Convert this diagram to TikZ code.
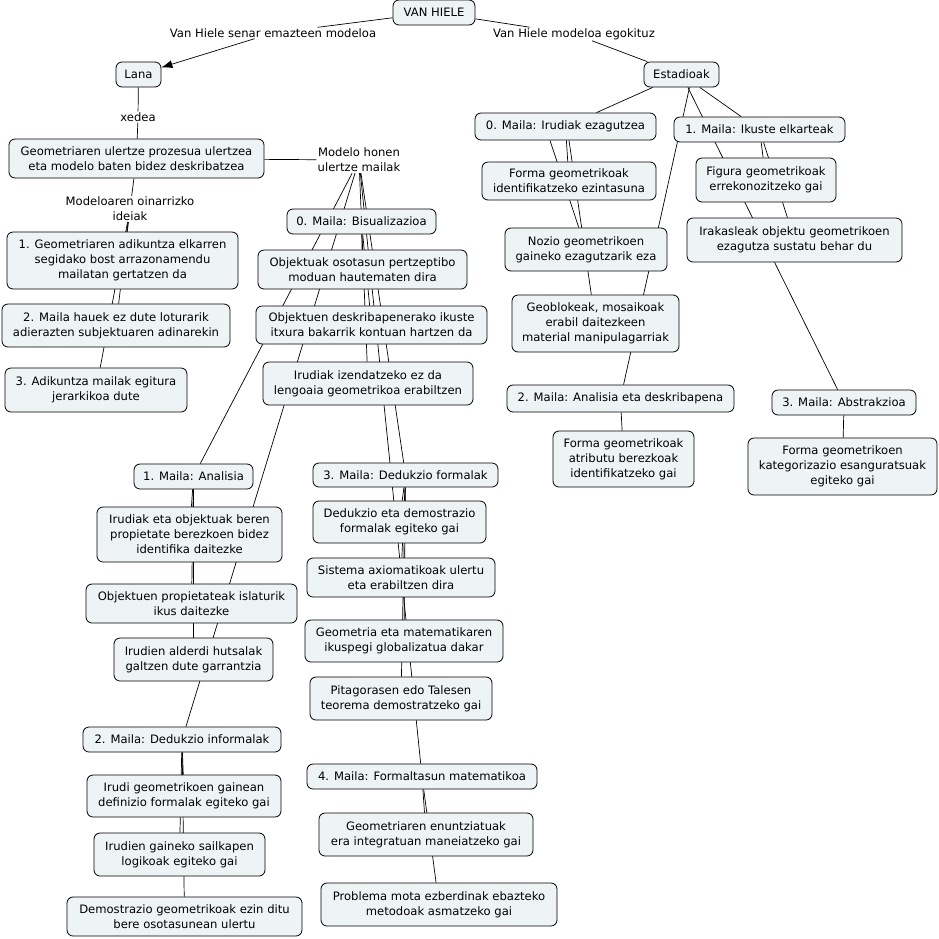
\documentclass[tikz,border=0pt]{standalone}
\usepackage{fontspec}
\setmainfont{DejaVu Sans}
\usetikzlibrary{arrows.meta}
\pgfdeclarelayer{background}
\pgfsetlayers{background,main}
\definecolor{boxfill}{HTML}{EEF3F5}
\tikzset{
  box/.style={draw=black, line width=0.8pt, rounded corners=6pt, fill=boxfill, inner sep=1pt, align=center, font=\fontsize{11.6}{15}\selectfont},
  lbl/.style={inner sep=1pt, align=center, font=\fontsize{11.6}{15}\selectfont},
  conn/.style={draw=black, line width=0.7pt},
  arr/.style={conn, -{Latex[length=11pt,width=8pt]}}
}
\begin{document}
\begin{tikzpicture}[x=1pt,y=-1pt]
\useasboundingbox (0,0) rectangle (939,938);
% concepts
\node[box, minimum width=82, minimum height=25] (vh) at (434,12.5) {VAN HIELE};
\node[box, minimum width=45, minimum height=25] (lana) at (138.5,74.5) {Lana};
\node[box, minimum width=255, minimum height=39] (geo) at (136.5,158.5) {Geometriaren ulertze prozesua ulertzea\\eta modelo baten bidez deskribatzea};
\node[box, minimum width=231, minimum height=57] (id1) at (122.5,260.5) {1. Geometriaren adikuntza elkarren\\segidako bost arrazonamendu\\mailatan gertatzen da};
\node[box, minimum width=228, minimum height=43] (id2) at (116,325.5) {2. Maila hauek ez dute loturarik\\adierazten subjektuaren adinarekin};
\node[box, minimum width=182, minimum height=44] (id3) at (96,390) {3. Adikuntza mailak egitura\\jerarkikoa dute};
\node[box, minimum width=149, minimum height=25] (b0) at (361.5,221.5) {0. Maila: Bisualizazioa};
\node[box, minimum width=209, minimum height=39] (b0a) at (362.5,269.5) {Objektuak osotasun pertzeptibo\\moduan hautematen dira};
\node[box, minimum width=231, minimum height=38] (b0b) at (371.5,325) {Objektuen deskribapenerako ikuste\\itxura bakarrik kontuan hartzen da};
\node[box, minimum width=210, minimum height=43] (b0c) at (368,383.5) {Irudiak izendatzeko ez da\\lengoaia geometrikoa erabiltzen};
\node[box, minimum width=119, minimum height=25] (b1) at (193.5,476.5) {1. Maila: Analisia};
\node[box, minimum width=185, minimum height=55] (b1a) at (189.5,534.5) {Irudiak eta objektuak beren\\propietate berezkoen bidez\\identifika daitezke};
\node[box, minimum width=211, minimum height=39] (b1b) at (191.5,603.5) {Objektuen propietateak islaturik\\ikus daitezke};
\node[box, minimum width=159, minimum height=43] (b1c) at (193.5,659.5) {Irudien alderdi hutsalak\\galtzen dute garrantzia};
\node[box, minimum width=198, minimum height=25] (b2) at (182,739.5) {2. Maila: Dedukzio informalak};
\node[box, minimum width=194, minimum height=42] (b2a) at (184,796) {Irudi geometrikoen gainean\\definizio formalak egiteko gai};
\node[box, minimum width=171, minimum height=43] (b2b) at (179.5,854.5) {Irudien gaineko sailkapen\\logikoak egiteko gai};
\node[box, minimum width=235, minimum height=39] (b2c) at (184.5,916.5) {Demostrazio geometrikoak ezin ditu\\bere osotasunean ulertu};
\node[box, minimum width=185, minimum height=24] (b3) at (405.5,475) {3. Maila: Dedukzio formalak};
\node[box, minimum width=173, minimum height=42] (b3a) at (399.5,522) {Dedukzio eta demostrazio\\formalak egiteko gai};
\node[box, minimum width=188, minimum height=39] (b3b) at (401,577.5) {Sistema axiomatikoak ulertu\\eta erabiltzen dira};
\node[box, minimum width=198, minimum height=42] (b3c) at (404,641) {Geometria eta matematikaren\\ikuspegi globalizatua dakar};
\node[box, minimum width=182, minimum height=43] (b3d) at (401,698.5) {Pitagorasen edo Talesen\\teorema demostratzeko gai};
\node[box, minimum width=230, minimum height=25] (b4) at (422,776.5) {4. Maila: Formaltasun matematikoa};
\node[box, minimum width=214, minimum height=43] (b4a) at (426,834.5) {Geometriaren enuntziatuak\\era integratuan maneiatzeko gai};
\node[box, minimum width=236, minimum height=43] (b4b) at (439,904.5) {Problema mota ezberdinak ebazteko\\metodoak asmatzeko gai};
\node[box, minimum width=75, minimum height=25] (est) at (681.5,74.5) {Estadioak};
\node[box, minimum width=181, minimum height=27] (s0) at (565.5,126.5) {0. Maila: Irudiak ezagutzea};
\node[box, minimum width=171, minimum height=25] (s1) at (759.5,129.5) {1. Maila: Ikuste elkarteak};
\node[box, minimum width=174, minimum height=38] (s0a) at (569,181) {Forma geometrikoak\\identifikatzeko ezintasuna};
\node[box, minimum width=140, minimum height=44] (s1a) at (766,180) {Figura geometrikoak\\errekonozitzeko gai};
\node[box, minimum width=215, minimum height=44] (s1b) at (794.5,240) {Irakasleak objektu geometrikoen\\ezagutza sustatu behar du};
\node[box, minimum width=162, minimum height=43] (s0b) at (586,249.5) {Nozio geometrikoen\\gaineko ezagutzarik eza};
\node[box, minimum width=167, minimum height=57] (s0c) at (595.5,323.5) {Geoblokeak, mosaikoak\\erabil daitezkeen\\material manipulagarriak};
\node[box, minimum width=227, minimum height=27] (s2) at (620.5,398.5) {2. Maila: Analisia eta deskribapena};
\node[box, minimum width=141, minimum height=56] (s2a) at (623.5,459) {Forma geometrikoak\\atributu berezkoak\\identifikatzeko gai};
\node[box, minimum width=144, minimum height=25] (s3) at (844,402.5) {3. Maila: Abstrakzioa};
\node[box, minimum width=189, minimum height=57] (s3a) at (842.5,466.5) {Forma geometrikoen\\kategorizazio esanguratsuak\\egiteko gai};
% linking phrases
\node[lbl] (l1) at (273,33) {Van Hiele senar emazteen modeloa};
\node[lbl] (l2) at (574,34) {Van Hiele modeloa egokituz};
\node[lbl] (l3) at (138,117) {xedea};
\node[lbl] (l4) at (359,160) {Modelo honen\\ulertze mailak};
\node[lbl] (l5) at (130,209) {Modeloaren oinarrizko\\ideiak};
% connectors
\begin{pgfonlayer}{background}
\draw[conn] (vh) -- (l1);
\draw[arr] (l1) -- (lana);
\draw[conn] (vh) -- (l2);
\draw[conn] (l2) -- (est);
\draw[conn] (lana) -- (l3);
\draw[conn] (l3) -- (geo);
\draw[conn] (geo) -- (l4);
\draw[conn] (geo) -- (l5);
\draw[conn] (l5) -- (id1);
\draw[conn] (l5) -- (id2);
\draw[conn] (l5) -- (id3);
\draw[conn] (l4) -- (b0);
\draw[conn] (l4) -- (b1);
\draw[conn] (l4) -- (b2);
\draw[conn] (l4) -- (b3);
\draw[conn] (l4) -- (b4);
\draw[conn] (b0) -- (b0a);
\draw[conn] (b0) -- (b0b);
\draw[conn] (b0) -- (b0c);
\draw[conn] (b1) -- (b1a);
\draw[conn] (b1) -- (b1b);
\draw[conn] (b1) -- (b1c);
\draw[conn] (b2) -- (b2a);
\draw[conn] (b2) -- (b2b);
\draw[conn] (b2) -- (b2c);
\draw[conn] (b3) -- (b3a);
\draw[conn] (b3) -- (b3b);
\draw[conn] (b3) -- (b3c);
\draw[conn] (b3) -- (b3d);
\draw[conn] (b4) -- (b4a);
\draw[conn] (b4) -- (b4b);
\draw[conn] (est) -- (s0);
\draw[conn] (est) -- (s1);
\draw[conn] ([xshift=8]est.south) -- (s2);
\draw[conn] (est) -- (s3);
\draw[conn] (s0) -- (s0a);
\draw[conn] ([xshift=-15.5]s0.south) -- (s0b);
\draw[conn] ([xshift=3.5]s0.south) -- (s0c);
\draw[conn] (s1) -- (s1a);
\draw[conn] (s1) -- (s1b);
\draw[conn] (s2) -- (s2a);
\draw[conn] (s3) -- (s3a);
\end{pgfonlayer}
\end{tikzpicture}
\end{document}
